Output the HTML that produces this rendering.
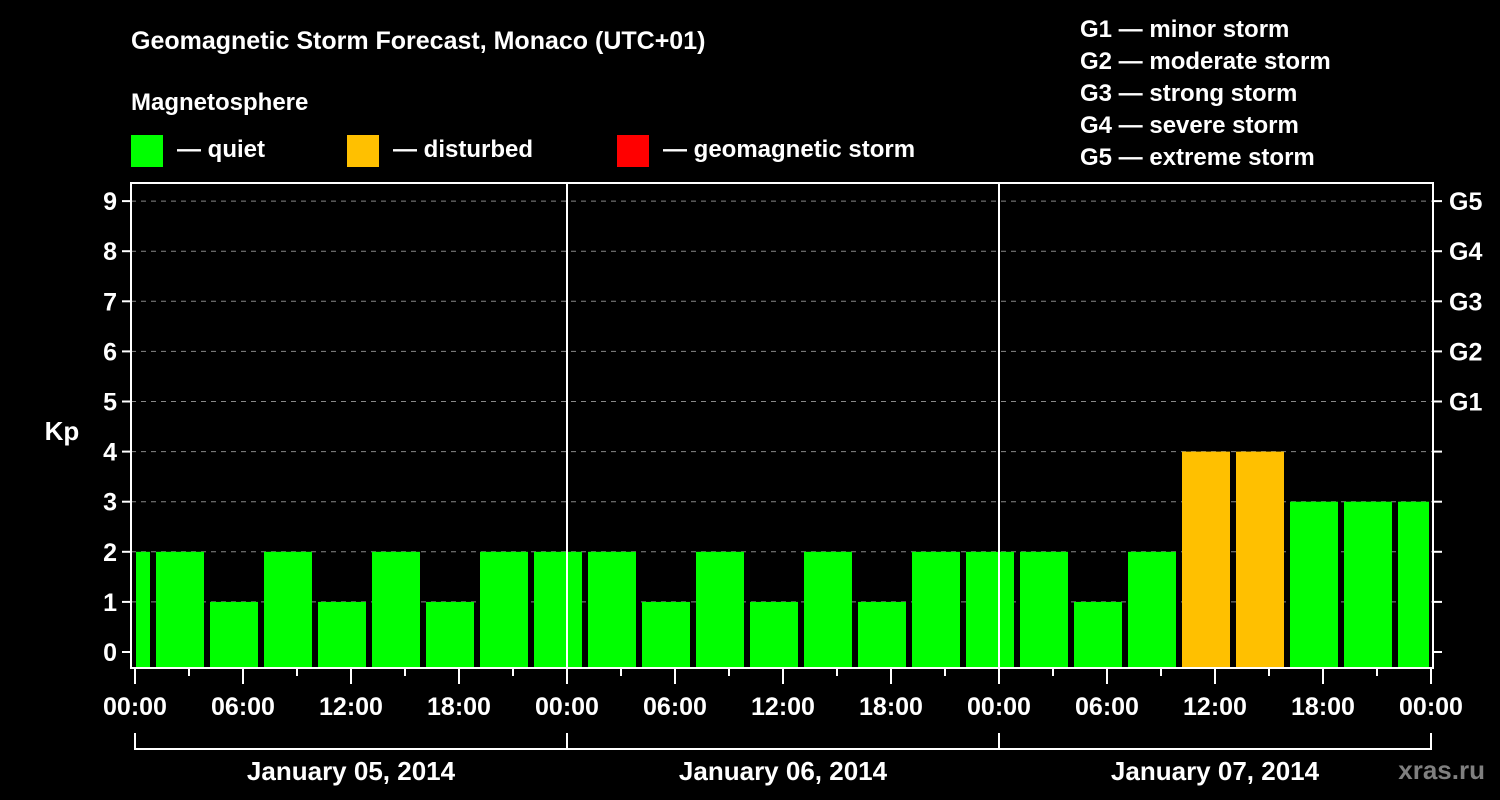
<!DOCTYPE html>
<html><head><meta charset="utf-8"><style>
html,body{margin:0;padding:0;background:#000;}
svg{display:block;font-family:"Liberation Sans",Arial,sans-serif;font-weight:bold;}
</style></head><body>
<svg id="chart" width="1500" height="800" viewBox="0 0 1500 800">
<rect x="0" y="0" width="1500" height="800" fill="#000"/>
<text x="131" y="49" fill="#fff" font-size="25">Geomagnetic Storm Forecast, Monaco (UTC+01)</text>
<text x="131" y="110" fill="#fff" font-size="24">Magnetosphere</text>
<g><rect x="131" y="135" width="32" height="32" fill="#00ff00"/><text x="177" y="157" fill="#fff" font-size="24">— quiet</text></g>
<g><rect x="347" y="135" width="32" height="32" fill="#ffc000"/><text x="393" y="157" fill="#fff" font-size="24">— disturbed</text></g>
<g><rect x="617" y="135" width="32" height="32" fill="#ff0000"/><text x="663" y="157" fill="#fff" font-size="24">— geomagnetic storm</text></g>
<g fill="#fff" font-size="24">
<text x="1080" y="37">G1 — minor storm</text>
<text x="1080" y="69">G2 — moderate storm</text>
<text x="1080" y="101">G3 — strong storm</text>
<text x="1080" y="133">G4 — severe storm</text>
<text x="1080" y="165">G5 — extreme storm</text>
</g>
<text x="62" y="440" fill="#fff" font-size="26" text-anchor="middle">Kp</text>
<text x="1478" y="845" fill="#888" font-size="26"></text>
<text x="1485" y="779" fill="#7f7f7f" font-size="26" text-anchor="end">xras.ru</text>
<g id="grid"></g><g id="bars"></g><g id="axes"></g>
</svg>
<script>
const kpValues=[2,2,1,2,1,2,1,2,2,2,1,2,1,2,1,2,2,2,1,2,4,4,3,3,3];
const firstIntervalStartHour=-2;
const yTicks=[0,1,2,3,4,5,6,7,8,9];
const gLabels=["G1","G2","G3","G4","G5"];
const xTickLabels=["00:00","06:00","12:00","18:00","00:00","06:00","12:00","18:00","00:00","06:00","12:00","18:00","00:00"];
const dayLabels=["January 05, 2014","January 06, 2014","January 07, 2014"];
const NS="http://www.w3.org/2000/svg";
const X0=135,PXH=18,TOTALH=72,L=131,R=1433,T=183,B=668;
function xs(h){return X0+h*PXH;}
function ys(k){return 652-k*50.1;}
function mk(tag,attrs,parent){const e=document.createElementNS(NS,tag);for(const k in attrs)e.setAttribute(k,attrs[k]);parent.appendChild(e);return e;}
const grid=document.getElementById('grid'),bars=document.getElementById('bars'),axes=document.getElementById('axes');
for(const k of yTicks){
  const y=ys(k);
  if(k>0){const l=mk('line',{x1:L,x2:R,y1:y,y2:y,stroke:'#888','stroke-dasharray':'5,5','stroke-width':1},grid);
  
  }
  const t=mk('line',{x1:L-9,x2:L,y1:y,y2:y,stroke:'#fff','stroke-width':2},axes);
  
  
  const t2=mk('line',{x1:R,x2:R+9,y1:y,y2:y,stroke:'#fff','stroke-width':2},axes);
  
  
  const tx=mk('text',{x:L-14,y:y+9,fill:'#fff','font-size':25,'text-anchor':'end'},axes);
  tx.textContent=k;
  
  
}
gLabels.forEach((g,i)=>{
  const tx=mk('text',{x:R+16,y:ys(5+i)+9,fill:'#fff','font-size':25},axes);
  tx.textContent=g;
  
  
});
kpValues.forEach((v,i)=>{
  const h0=firstIntervalStartHour+i*3,h1=h0+3;
  let x1=Math.max(xs(h0)+3,X0+1),x2=Math.min(xs(h1)-3,X0+TOTALH*PXH-2);
  if(x2<=x1)return;
  const color=v>=5?'#ff0000':(v>=4?'#ffc000':'#00ff00');
  const r=mk('rect',{x:x1,y:ys(v),width:x2-x1,height:B-ys(v),fill:color},bars);
  
  
});
const fr=mk('rect',{x:L,y:T,width:R-L,height:B-T,fill:'none',stroke:'#fff','stroke-width':2},axes);


for(let d=1;d<3;d++){const l=mk('line',{x1:xs(d*24),x2:xs(d*24),y1:T,y2:B,stroke:'#fff','stroke-width':2},axes);

}
for(let h=0;h<=TOTALH;h+=3){
  const major=h%6===0;
  const l=mk('line',{x1:xs(h),x2:xs(h),y1:B,y2:B+(major?16:8),stroke:'#fff','stroke-width':2},axes);
  
  
}
xTickLabels.forEach((s,i)=>{
  const tx=mk('text',{x:xs(i*6),y:715,fill:'#fff','font-size':25,'text-anchor':'middle'},axes);
  tx.textContent=s;
  
  
});
const br=mk('path',{d:`M${xs(0)},733V749H${xs(TOTALH)}V733`,fill:'none',stroke:'#fff','stroke-width':2},axes);


dayLabels.forEach((s,i)=>{
  const l=mk('line',{x1:xs(i*24),x2:xs(i*24),y1:733,y2:749,stroke:'#fff','stroke-width':2},axes);
  
  
  const tx=mk('text',{x:xs(i*24+12),y:780,fill:'#fff','font-size':26,'text-anchor':'middle'},axes);
  tx.textContent=s;
  
  
});
</script>
</body></html>
